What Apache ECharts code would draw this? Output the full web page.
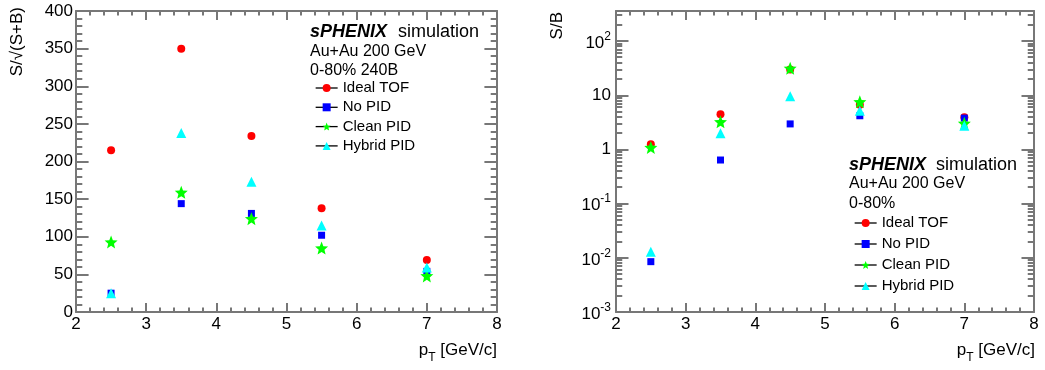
<!DOCTYPE html>
<html>
<head>
<meta charset="utf-8">
<script src="https://cdn.jsdelivr.net/npm/echarts@6/dist/echarts.min.js"></script>
<style>
  html, body { margin: 0; padding: 0; background: #ffffff; }
  #chart { width: 1045px; height: 370px; }
</style>
</head>
<body>
<div id="chart"></div>
<script>
// pT bin centres [GeV/c]
const ptBins = [2.5, 3.5, 4.5, 5.5, 7];
const seriesNames = ['Ideal TOF', 'No PID', 'Clean PID', 'Hybrid PID'];

// Significance S/sqrt(S+B)
const signifIdealTOF  = [215, 350, 234, 138, 69];
const signifNoPID     = [25, 144, 131, 102, 54];
const signifCleanPID  = [93, 159, 124, 85, 48];
const signifHybridPID = [25, 238, 173, 115, 59];

// Signal over background S/B
const sbIdealTOF  = [1.25, 4.5, 30, 6.7, 3.95];
const sbNoPID     = [0.0085, 0.64, 2.97, 4.2, 3.8];
const sbCleanPID  = [1.09, 3.25, 31.5, 7.6, 3.05];
const sbHybridPID = [0.013, 2.0, 9.6, 5.2, 2.75];

// Axis ticks
const ptTicks = [2, 3, 4, 5, 6, 7, 8];
const signifTicks = [0, 50, 100, 150, 200, 250, 300, 350, 400];
const sbDecades = [0.001, 0.01, 0.1, 1, 10, 100];
const sbMax = 361;

const FONT = '"Liberation Sans", Arial, Helvetica, sans-serif';
const FRAME = '#777777';
const TICKW = 2;
const TXT = '#000000';

function starPath(rOut, rIn) {
  let d = '';
  for (let i = 0; i < 10; i++) {
    const r = i % 2 === 0 ? rOut : rIn;
    const a = -Math.PI / 2 + i * Math.PI / 5;
    d += (i === 0 ? 'M' : 'L') + (r * Math.cos(a)).toFixed(3) + ',' + (r * Math.sin(a)).toFixed(3) + ' ';
  }
  return 'path://' + d + 'Z';
}

const markers = [
  { color: '#ff0000', symbol: 'circle', size: 8 },
  { color: '#0000ff', symbol: 'rect', size: 7 },
  { color: '#00ff00', symbol: starPath(10, 4.4), size: 13 },
  { color: '#00ffff', symbol: 'triangle', size: 10 }
];

const signifSets = [signifIdealTOF, signifNoPID, signifCleanPID, signifHybridPID];
const sbSets = [sbIdealTOF, sbNoPID, sbCleanPID, sbHybridPID];

// minor ticks of the log axis: 2..9 x 10^k
const sbMinorTicks = [];
for (let k = -3; k <= 2; k++) {
  for (let m = 2; m <= 9; m++) {
    const v = m * Math.pow(10, k);
    if (v < sbMax) sbMinorTicks.push(v);
  }
}

const frameLine = { show: true, onZero: false, lineStyle: { color: FRAME, width: TICKW } };

function xAxisCfg(gridIndex, position, showLabel) {
  return {
    type: 'value', gridIndex, position,
    min: ptTicks[0], max: ptTicks[ptTicks.length - 1], interval: ptTicks[1] - ptTicks[0],
    axisLine: frameLine,
    axisTick: { show: true, inside: true, length: 9, lineStyle: { color: FRAME, width: TICKW } },
    minorTick: { show: true, splitNumber: 5, length: 4.5, lineStyle: { color: FRAME, width: TICKW } },
    splitLine: { show: false },
    axisLabel: { show: showLabel, color: TXT, fontSize: 17, fontFamily: FONT, margin: 4 }
  };
}

function linYCfg(gridIndex, position, showLabel) {
  return {
    type: 'value', gridIndex, position,
    min: signifTicks[0], max: signifTicks[signifTicks.length - 1],
    interval: signifTicks[1] - signifTicks[0],
    axisLine: frameLine,
    axisTick: { show: true, inside: true, length: 12.6, lineStyle: { color: FRAME, width: TICKW } },
    minorTick: { show: true, splitNumber: 5, length: 6.3, lineStyle: { color: FRAME, width: TICKW } },
    splitLine: { show: false },
    axisLabel: { show: showLabel, color: TXT, fontSize: 17, fontFamily: FONT, margin: 3 }
  };
}

function logLabel(v) {
  const e = Math.log10(v);
  const r = Math.round(e);
  if (Math.abs(e - r) > 1e-6) return '';
  if (r === 0) return '1';
  if (r === 1) return '10';
  return '{b|10}{s|' + r + '}';
}

function logYCfg(gridIndex, position, showLabel) {
  return {
    type: 'log', logBase: 10, gridIndex, position,
    min: sbDecades[0], max: sbMax,
    axisLine: frameLine,
    axisTick: { show: true, inside: true, length: 12.5, lineStyle: { color: FRAME, width: TICKW } },
    minorTick: { show: false },
    splitLine: { show: false },
    axisLabel: {
      show: showLabel, color: TXT, fontSize: 17, fontFamily: FONT, margin: 5,
      formatter: logLabel,
      rich: {
        b: { fontSize: 17, fontFamily: FONT, color: TXT, lineHeight: 21, verticalAlign: 'bottom' },
        s: { fontSize: 12, fontFamily: FONT, color: TXT, lineHeight: 12, verticalAlign: 'top' }
      }
    }
  };
}

const series = [];
seriesNames.forEach((name, i) => {
  const mk = markers[i];
  const common = {
    name, type: 'line', symbol: mk.symbol, symbolSize: mk.size,
    showSymbol: true, showAllSymbol: true,
    itemStyle: { color: mk.color },
    lineStyle: { width: 0, opacity: 0 },
    animation: false, z: 3 + i
  };
  series.push(Object.assign({}, common, {
    xAxisIndex: 0, yAxisIndex: 0,
    data: ptBins.map((x, j) => [x, signifSets[i][j]])
  }));
  series.push(Object.assign({}, common, {
    xAxisIndex: 2, yAxisIndex: 2,
    data: ptBins.map((x, j) => [x, sbSets[i][j]])
  }));
});

// log-axis minor ticks (2..9 per decade) on both sides of the right frame
series.push({
  type: 'custom', xAxisIndex: 2, yAxisIndex: 2, clip: false, silent: true, z: 2,
  animation: false,
  data: sbMinorTicks.map(v => [ptTicks[0], v]),
  renderItem: function (params, api) {
    const v = api.value(1);
    const pL = api.coord([ptTicks[0], v]);
    const pR = api.coord([ptTicks[ptTicks.length - 1], v]);
    const y = Math.round(pL[1]);
    const st = { stroke: FRAME, lineWidth: TICKW };
    return {
      type: 'group',
      children: [
        { type: 'line', shape: { x1: pL[0], y1: y, x2: pL[0] + 6.25, y2: y }, style: st },
        { type: 'line', shape: { x1: pR[0] - 6.25, y1: y, x2: pR[0], y2: y }, style: st }
      ]
    };
  }
});

const legendCommon = {
  data: seriesNames, orient: 'vertical', padding: 0,
  itemWidth: 22, itemHeight: 10, selectedMode: false,
  textStyle: { fontSize: 15, fontFamily: FONT, color: TXT, lineHeight: 16 },
  lineStyle: { color: '#000000', width: 1.3, opacity: 1 }
};

function txt(x, y, text, size, extra) {
  return {
    type: 'text', x, y, silent: true,
    style: Object.assign({
      text, fill: TXT, fontSize: size, fontFamily: FONT,
      align: 'left', verticalAlign: 'middle'
    }, extra || {})
  };
}

function ptTitle(xRight, y) {
  return {
    type: 'text', x: xRight, y, silent: true,
    style: {
      text: '{a|p}{t|T}{a| [GeV/c]}', align: 'right', verticalAlign: 'middle',
      fill: TXT, fontFamily: FONT,
      rich: {
        a: { fontSize: 17, fontFamily: FONT, fill: TXT, lineHeight: 27, verticalAlign: 'middle' },
        t: { fontSize: 12, fontFamily: FONT, fill: TXT, lineHeight: 12, verticalAlign: 'bottom' }
      }
    }
  };
}

const option = {
  backgroundColor: '#ffffff',
  animation: false,
  grid: [
    { left: 76, top: 11, width: 421, height: 301 },
    { left: 616, top: 11, width: 418, height: 301 }
  ],
  xAxis: [
    xAxisCfg(0, 'bottom', true),
    xAxisCfg(0, 'top', false),
    xAxisCfg(1, 'bottom', true),
    xAxisCfg(1, 'top', false)
  ],
  yAxis: [
    linYCfg(0, 'left', true),
    linYCfg(0, 'right', false),
    logYCfg(1, 'left', true),
    logYCfg(1, 'right', false)
  ],
  legend: [
    Object.assign({}, legendCommon, { left: 315, top: 80, itemGap: 3.3 }),
    Object.assign({}, legendCommon, { left: 854, top: 215, itemGap: 5 })
  ],
  series,
  graphic: [
    txt(310, 32, 'sPHENIX', 18, { fontWeight: 'bold', fontStyle: 'italic' }),
    txt(398, 32, 'simulation', 18),
    txt(310, 52, 'Au+Au 200 GeV', 16),
    txt(310, 71, '0-80% 240B', 16),
    txt(849, 165, 'sPHENIX', 18, { fontWeight: 'bold', fontStyle: 'italic' }),
    txt(936, 165, 'simulation', 18),
    txt(849, 184, 'Au+Au 200 GeV', 16),
    txt(849, 204, '0-80%', 16),
    {
      type: 'text', x: 17, y: 7, rotation: Math.PI / 2, silent: true,
      style: { text: 'S/\u221A(S+B)', fill: TXT, fontSize: 17, fontFamily: FONT, align: 'right', verticalAlign: 'middle' }
    },
    {
      type: 'text', x: 557, y: 12, rotation: Math.PI / 2, silent: true,
      style: { text: 'S/B', fill: TXT, fontSize: 17, fontFamily: FONT, align: 'right', verticalAlign: 'middle' }
    },
    ptTitle(497, 350),
    ptTitle(1035, 350)
  ]
};

const chart = echarts.init(document.getElementById('chart'), null, { renderer: 'canvas' });
chart.setOption(option);
</script>
</body>
</html>
